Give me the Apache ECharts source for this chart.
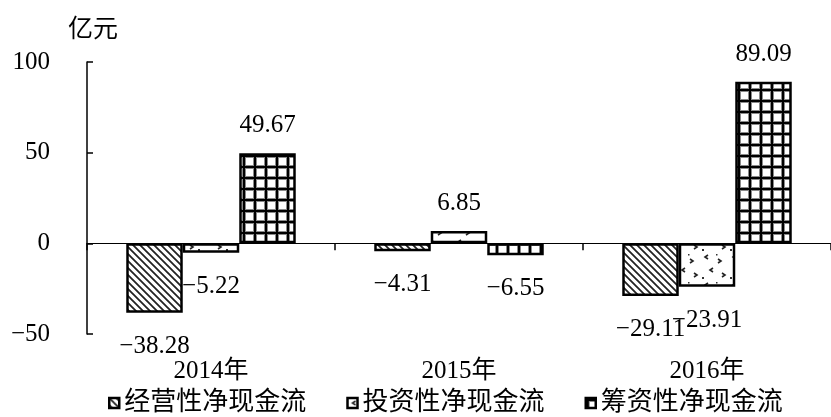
<!DOCTYPE html>
<html>
<head>
<meta charset="utf-8">
<script src="https://cdn.jsdelivr.net/npm/echarts@6/dist/echarts.min.js"></script>
<style>
  html, body { margin: 0; padding: 0; background: #fff; }
  #chart { width: 831px; height: 417px; }
</style>
</head>
<body>
<div id="chart"></div>
<script>
// Cash flow by year (亿元)
var categories = ['2014年', '2015年', '2016年'];
var seriesNames = ['经营性净现金流', '投资性净现金流', '筹资性净现金流'];
var operating = [-38.28, -4.31, -29.11];
var investing = [-5.22, 6.85, -23.91];
var financing = [49.67, -6.55, 89.09];
var yTicks = { min: -50, max: 100, step: 50 };

var FONT = "'Liberation Serif', 'Noto Sans CJK SC', serif";

// Numbers are shown with a true minus sign
function fmt(v, digits) {
  var s = digits == null ? String(v) : v.toFixed(digits);
  return s.replace('-', '\u2212');
}

// Fill patterns for the three bar styles
function makeCanvas(w, h) {
  var c = document.createElement('canvas');
  c.width = w; c.height = h;
  var ctx = c.getContext('2d');
  ctx.fillStyle = '#fff';
  ctx.fillRect(0, 0, w, h);
  return { c: c, ctx: ctx };
}

function hatchPattern() {
  var s = 7;
  var p = makeCanvas(s, s), ctx = p.ctx;
  ctx.strokeStyle = '#222';
  ctx.lineWidth = 1.8;
  ctx.beginPath();
  ctx.moveTo(-1, -1); ctx.lineTo(s + 1, s + 1);
  ctx.moveTo(-1, s - 1); ctx.lineTo(1, s + 1);
  ctx.moveTo(s - 1, -1); ctx.lineTo(s + 1, 1);
  ctx.stroke();
  return p.c;
}

function confettiPattern() {
  var p = makeCanvas(28, 28), ctx = p.ctx;
  ctx.strokeStyle = '#222';
  ctx.lineWidth = 1.6;
  function chevron(x, y, dir) {
    ctx.beginPath();
    ctx.moveTo(x + 2 * dir, y - 2);
    ctx.lineTo(x - 1 * dir, y);
    ctx.lineTo(x + 2 * dir, y + 2);
    ctx.stroke();
  }
  chevron(6, 5, 1);
  chevron(20, 9, -1);
  chevron(11, 18, 1);
  chevron(24, 23, -1);
  ctx.fillStyle = '#333';
  ctx.fillRect(2, 25, 2, 2);
  ctx.fillRect(16, 2, 1.5, 1.5);
  return p.c;
}

function gridPattern() {
  var s = 11;
  var p = makeCanvas(s, s), ctx = p.ctx;
  ctx.fillStyle = '#8a8a8a';
  ctx.fillRect(0, 0, 4, s);
  ctx.fillRect(0, 0, s, 4);
  ctx.fillStyle = '#000';
  ctx.fillRect(1, 0, 2, s);
  ctx.fillRect(0, 1, s, 2);
  return p.c;
}

var patterns = [hatchPattern(), confettiPattern(), gridPattern()];
var valueSets = [operating, investing, financing];

function buildData(values) {
  return values.map(function (v) {
    return {
      value: v,
      label: { position: v < 0 ? 'bottom' : 'top', distance: v < 0 ? 21 : 15 }
    };
  });
}

var series = seriesNames.map(function (name, i) {
  return {
    name: name,
    type: 'bar',
    xAxisIndex: 0,
    barWidth: 56.5,
    barGap: '0%',
    data: buildData(valueSets[i]),
    itemStyle: {
      color: { image: patterns[i], repeat: 'repeat' },
      borderColor: '#000',
      borderWidth: 2.5
    },
    label: {
      show: true,
      color: '#000',
      fontFamily: FONT,
      fontSize: 25,
      formatter: function (p) { return fmt(p.value, 2); }
    },
    emphasis: { disabled: true }
  };
});

var chart = echarts.init(document.getElementById('chart'), null, { renderer: 'canvas' });
chart.setOption({
  animation: false,
  backgroundColor: '#fff',
  textStyle: { fontFamily: FONT, color: '#000' },
  grid: { left: 87, width: 757, top: 62, height: 272, containLabel: false },
  legend: {
    left: 103,
    top: 385,
    itemWidth: 10,
    itemHeight: 10,
    itemGap: 40,
    icon: 'rect',
    itemStyle: { borderColor: '#000', borderWidth: 2.5 },
    textStyle: { fontFamily: FONT, fontSize: 26, color: '#000' },
    data: seriesNames
  },
  xAxis: [
    {
      type: 'category',
      data: categories,
      position: 'bottom',
      axisLine: { show: false, onZero: false },
      axisTick: { show: false },
      axisLabel: { margin: 25, fontSize: 25, color: '#000', fontFamily: FONT },
      splitLine: { show: false }
    },
    {
      type: 'category',
      data: categories,
      position: 'top',
      axisLine: { show: true, onZero: true, lineStyle: { color: '#000', width: 1 } },
      axisTick: { show: true, inside: true, length: 7, lineStyle: { color: '#000', width: 1.5 } },
      axisLabel: { show: false },
      splitLine: { show: false }
    }
  ],
  yAxis: {
    type: 'value',
    min: yTicks.min,
    max: yTicks.max,
    interval: yTicks.step,
    name: '亿元',
    nameLocation: 'end',
    nameGap: 19,
    nameTextStyle: { fontSize: 25, color: '#000', fontFamily: FONT, align: 'center', padding: [0, 0, 0, 12] },
    axisLine: { show: true, lineStyle: { color: '#000', width: 1.5 } },
    axisTick: { show: true, inside: true, length: 6, lineStyle: { color: '#000', width: 1.5 } },
    axisLabel: { margin: 37, fontSize: 25, color: '#000', fontFamily: FONT, formatter: function (v) { return fmt(v); } },
    splitLine: { show: false }
  },
  series: series
});
</script>
</body>
</html>
